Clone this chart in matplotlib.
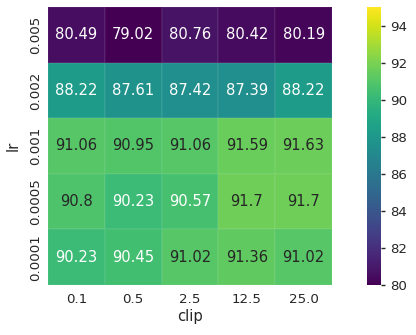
import numpy as np
import pandas as pd
import seaborn as sns
import matplotlib
matplotlib.use('Agg')
import matplotlib.pyplot as plt

lrs = ['0.005', '0.002', '0.001', '0.0005', '0.0001']
clips = ['0.1', '0.5', '2.5', '12.5', '25.0']
acc = [
    [80.49, 79.02, 80.76, 80.42, 80.19],
    [88.22, 87.61, 87.42, 87.39, 88.22],
    [91.06, 90.95, 91.06, 91.59, 91.63],
    [90.8, 90.23, 90.57, 91.7, 91.7],
    [90.23, 90.45, 91.02, 91.36, 91.02],
]

df = pd.DataFrame(acc, index=lrs, columns=clips)
df.index.name = 'lr'
df.columns.name = 'clip'

sns.set_theme(style='white')
plt.rcParams['font.family'] = ['DejaVu Sans']

fig = plt.figure(figsize=(4.16, 3.35), dpi=100)
ax = fig.add_axes([48 / 416, 50 / 335, 284 / 416, 278 / 335])
cax = fig.add_axes([367 / 416, 50 / 335, 14 / 416, 278 / 335])

sns.heatmap(df, annot=True, fmt='g', cmap='viridis', vmin=80, vmax=95,
            ax=ax, cbar_ax=cax, annot_kws={'fontsize': 10.6},
            linewidths=0.3, linecolor=(1, 1, 1, 0.05))
ax.tick_params(axis='x', labelsize=9.6, length=0, pad=6)
ax.tick_params(axis='y', labelsize=9.6, length=0, pad=4)
ax.set_yticklabels(ax.get_yticklabels(), rotation=90, va='center')
ax.set_xlabel('clip', fontsize=10.6, labelpad=2)
ax.set_ylabel('lr', fontsize=10.6, labelpad=6)
cax.tick_params(labelsize=9.6, length=3, width=1)
cax.set_yticks([80, 82, 84, 86, 88, 90, 92, 94])

plt.savefig('out.png', dpi=100)
